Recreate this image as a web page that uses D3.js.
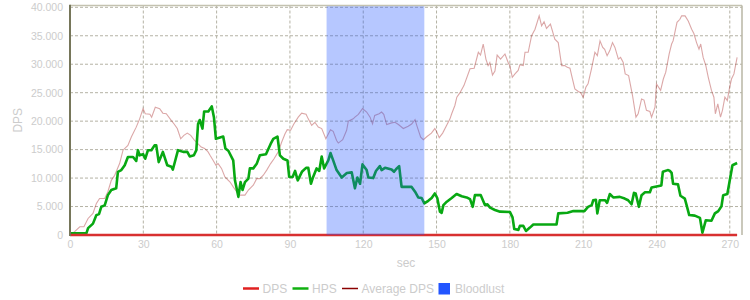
<!DOCTYPE html>
<html>
<head>
<meta charset="utf-8">
<script src="https://cdn.jsdelivr.net/npm/d3@7"></script>
<style>
  body { margin: 0; background: #fff; }
  text { font-family: "Liberation Sans", Arial, sans-serif; }
</style>
</head>
<body>
<div id="chart"></div>
<script>
// Series data (seconds, value)
var dpsTime = [0, 273];
var dpsValues = [0, 0];

var hpsTime = [0, 6.7, 7.4, 9.4, 10.8, 11.9, 12.8, 14.2, 15.5, 16.9, 18.9, 19.6, 21, 22.4, 23.7, 25.8, 27.1, 27.8, 28.5, 29.9,
  30.8, 31.9, 33.3, 34.6, 35.3, 36.3, 38, 39.8, 41.5, 42.1, 44.2, 46.3, 48, 49, 50.7, 51.7, 52.4, 53.1, 54.2, 54.9,
  56.6, 58, 58.9, 59.7, 62.7, 63.6, 64.8, 66.8, 67.5, 68.9, 69.8, 70.6, 71.6, 73, 73.6, 75, 76.4, 77.7, 80.2, 82.1,
  83.2, 84.9, 85.9, 87.3, 89, 89.7, 91.1, 92.1, 93.2, 94.9, 96.6, 97.5, 98.6, 99.5, 100.9, 102, 103, 104, 105.7, 106.6,
  107.7, 109.1, 111.2, 113.3, 115.3, 116.6, 117.6, 118.7, 119.7, 121.4, 122.1, 124.1, 125.2, 126.8, 127.5, 128.9, 131.6, 132.6, 133.5, 134.7,
  135.7, 139.8, 141.2, 142.5, 143.9, 145, 146.6, 148, 149.3, 150.3, 151.4, 152.1, 152.8, 154.2, 156.2, 158.2, 160.3, 162.3, 163.7, 164.8,
  165.7, 168.1, 169.8, 170.8, 171.9, 173.9, 176, 180, 181.1, 181.8, 183.5, 184.1, 185.5, 186.6, 188.2, 189.6, 199.1, 199.8, 203.6, 206,
  210.5, 212, 213.5, 214.1, 215.2, 215.8, 216.8, 219, 219.8, 220.9, 222.3, 225, 227, 228.4, 229.8, 230.8, 231.5, 232.8, 233.9, 235.3,
  237.3, 238, 242, 242.6, 244.6, 245.4, 246.2, 246.8, 248.8, 249.8, 251.6, 252.3, 253.4, 255.7, 257.8, 258.8, 260.2, 262.5, 263.9, 265.3,
  266.6, 267.3, 269, 269.8, 271.1, 273];
var hpsValues = [300, 300, 1200, 2000, 3500, 3700, 4950, 5200, 7000, 7900, 8200, 11100, 11400, 12250, 13700, 13700, 13000, 14900, 14000, 14200,
  13400, 14900, 14900, 15750, 15750, 12800, 14600, 12250, 12000, 11500, 14900, 14600, 14600, 13800, 14000, 14900, 19500, 20200, 18700, 21700,
  21700, 22600, 20700, 16900, 17300, 15200, 14800, 13100, 9600, 6700, 9300, 7900, 9300, 9900, 11700, 11700, 12500, 14000, 14200, 16000,
  16900, 17300, 14000, 13400, 13100, 10200, 10200, 11250, 9600, 11100, 11800, 11800, 9000, 10200, 11700, 11250, 13800, 11700, 13100, 14400,
  13100, 11400, 10100, 10900, 11000, 8200, 10100, 9000, 12400, 11400, 10100, 10000, 11250, 12100, 11400, 11800, 11500, 11100, 11600, 12100,
  8450, 8450, 7600, 6600, 6500, 5550, 6000, 6500, 7300, 6500, 4100, 3900, 5250, 5850, 6500, 7200, 6800, 6600, 6300, 4950,
  7000, 7000, 5250, 5400, 4800, 4400, 4100, 4050, 3100, 1050, 900, 1600, 1600, 700, 1300, 1850, 1850, 3800, 3900, 4200,
  4200, 4950, 5250, 6100, 6200, 3800, 6100, 6100, 5650, 7200, 6600, 6700, 6400, 6100, 5400, 7400, 7300, 4950, 7000, 7500,
  7500, 8350, 8700, 11100, 11400, 11300, 10900, 9000, 8900, 6900, 6400, 5300, 3500, 3400, 3000, 400, 2600, 2500, 3800, 4200,
  5050, 7000, 7200, 9150, 12250, 12650];

var avgTime = [0, 1.9, 4, 5.7, 7.4, 9.4, 10.8, 12.1, 14.2, 15.5, 16.9, 18.3, 20.3, 21.7, 23.7, 25.1, 27.1, 28.5, 29.9, 30.8,
  32.7, 33.4, 34.9, 36.7, 38, 39.4, 41.5, 42.6, 43.9, 45.3, 46.6, 48, 49.4, 51, 52.4, 53.7, 55.1, 56.5, 57.3, 58.6,
  59.7, 60.6, 62, 63.4, 65.5, 66.8, 68.2, 69.6, 71.6, 73, 75, 76.4, 77.7, 79.1, 80.5, 82.1, 83.5, 85.2, 86.6, 88,
  88.9, 90.3, 91.6, 93.4, 94.8, 96.6, 97.5, 98.9, 100.2, 101.6, 103, 104.7, 106.6, 107.7, 109.1, 109.8, 111.6, 113.2, 113.9, 115.9,
  116.6, 118, 119.7, 121.4, 122.8, 123.8, 124.7, 126.5, 127.5, 128.4, 129.6, 131.6, 133, 134.4, 136.4, 138.4, 139.8, 141.2, 142.1, 143.5,
  144.6, 146.1, 147.9, 149.3, 150, 151.1, 152.5, 154.1, 155.5, 156.2, 157.5, 158.3, 159.6, 161.2, 163.7, 165.4, 167.1, 168, 169.1, 170.2,
  171.1, 171.8, 172.9, 173.9, 174.8, 176.2, 178, 179.3, 180, 181, 182.1, 183.4, 184.1, 185.5, 186.2, 187.5, 188.9, 190.3, 192, 193,
  194, 195, 196.6, 198.4, 199.8, 201.2, 202.5, 203.5, 204.6, 205.3, 206.6, 208, 209, 210, 211.1, 212, 213.4, 214.8, 215.8, 216.9,
  218, 218.8, 219.8, 220.9, 222, 223, 224.4, 225.3, 226.4, 227.2, 228.6, 230.2, 231.6, 232.5, 233.9, 234.9, 235.9, 237.3, 238, 239.4,
  240, 241.7, 242.8, 243.8, 245.2, 246.2, 246.8, 248.4, 249.6, 250.3, 251.7, 253, 254.4, 255.3, 256.4, 257.4, 258.1, 259.1, 260.2, 261.2,
  262.5, 263.5, 264.1, 265.1, 266.2, 267, 268, 269, 269.8, 270.7, 271.7, 273];
var avgValues = [0, 600, 1450, 1450, 2900, 3800, 5550, 6400, 6400, 7600, 9600, 10500, 12550, 14900, 15750, 17200, 18950, 20400, 22200, 21300,
  21200, 20700, 22450, 22200, 21400, 21300, 20100, 19500, 18700, 16900, 17500, 17900, 17500, 16600, 16000, 15450, 15200, 14600, 14000, 13100,
  12250, 12550, 11700, 10200, 9300, 8450, 7600, 7000, 7000, 7900, 8750, 9900, 9900, 10500, 11400, 12550, 13400, 14600, 16300, 17800,
  18500, 18400, 19500, 20700, 21400, 21200, 20400, 19250, 19800, 18950, 18700, 16900, 18500, 18200, 16600, 16150, 16750, 18400, 20000, 20400,
  20700, 21200, 22200, 21600, 20700, 19500, 21000, 21300, 21600, 21200, 19400, 19700, 19800, 19400, 18700, 19100, 19500, 20250, 19000, 17200,
  16750, 17300, 17900, 18700, 18200, 17100, 17900, 19250, 20400, 21300, 22750, 24200, 25000, 26250, 29200, 29300, 32100, 31600, 33550, 30900,
  29750, 30300, 28100, 28800, 31600, 30900, 31800, 30300, 29750, 27700, 28300, 28900, 29900, 29750, 32100, 32100, 35000, 36150, 38500, 36750,
  37450, 36300, 37050, 34400, 33800, 29750, 29750, 29450, 29300, 28000, 25650, 25200, 25000, 24200, 25950, 26550, 29200, 32100, 31500, 34100,
  32950, 32600, 31500, 32400, 33800, 32950, 30900, 31200, 30300, 28300, 28000, 24500, 20700, 21300, 23900, 23700, 21900, 21700, 20700, 22450,
  26550, 25400, 27400, 28600, 31800, 33550, 34100, 37350, 37900, 38500, 38500, 37600, 36150, 35400, 33800, 32650, 33550, 31200, 29750, 27700,
  25400, 24200, 21300, 23050, 20700, 21900, 24200, 23600, 25650, 27400, 28300, 31200];

// Bloodlust window (seconds)
var bloodlustStart = 105;
var bloodlustEnd = 145;

var xTicks = [0, 30, 60, 90, 120, 150, 180, 210, 240, 270];
var yTicks = [0, 5000, 10000, 15000, 20000, 25000, 30000, 35000, 40000];

var legendItems = ["DPS", "HPS", "Average DPS", "Bloodlust"];

// Sizes
var svgWidth = 750;
var svgHeight = 300;
var plot = { left: 70, right: 742, top: 5.5, bottom: 235 };

var svg = d3.select("#chart")
  .append("svg")
  .attr("width", svgWidth)
  .attr("height", svgHeight);

var xScale = d3.scaleLinear()
  .domain([0, 275])
  .range([plot.left, plot.right]);

var yScale = d3.scaleLinear()
  .domain([0, 40000])
  .range([plot.bottom, 7.3]);

var fmt = d3.formatLocale({ decimal: ",", thousands: ".", grouping: [3], currency: ["", ""] }).format(",d");

var labelColor = "#cccccc";
var gridColor = "#b4b2a4";

// Grid lines
var grid = svg.append("g");
grid.selectAll(".hgrid")
  .data(yTicks.filter(d => d > 0))
  .enter()
  .append("line")
  .attr("x1", plot.left)
  .attr("x2", plot.right)
  .attr("y1", d => yScale(d))
  .attr("y2", d => yScale(d))
  .attr("stroke", gridColor)
  .attr("stroke-dasharray", "3,2");

grid.selectAll(".vgrid")
  .data(xTicks.filter(d => d > 0))
  .enter()
  .append("line")
  .attr("x1", d => xScale(d))
  .attr("x2", d => xScale(d))
  .attr("y1", plot.top)
  .attr("y2", plot.bottom)
  .attr("stroke", gridColor)
  .attr("stroke-dasharray", "3,2");

// Axes (labels only, lines drawn by hand)
var yAxis = d3.axisLeft(yScale).tickValues(yTicks).tickFormat(fmt).tickSize(0).tickPadding(7);
var xAxis = d3.axisBottom(xScale).tickValues(xTicks).tickSize(0).tickPadding(6);

var yG = svg.append("g")
  .attr("transform", `translate(${plot.left}, 0)`)
  .call(yAxis);
var xG = svg.append("g")
  .attr("transform", `translate(0, ${plot.bottom})`)
  .call(xAxis);
[yG, xG].forEach(function(g) {
  g.select(".domain").remove();
  g.selectAll("text")
    .attr("fill", labelColor)
    .style("font-size", "10.5px")
    .style("font-family", "'Liberation Sans', Arial, sans-serif");
});

// Lines
var line = d3.line()
  .x(d => xScale(d[0]))
  .y(d => yScale(d[1]));

svg.append("path")
  .datum(d3.zip(avgTime, avgValues))
  .attr("d", line)
  .attr("fill", "none")
  .attr("stroke", "#a01818")
  .attr("stroke-opacity", 0.38)
  .attr("stroke-width", 1.1);

svg.append("path")
  .datum(d3.zip(hpsTime, hpsValues))
  .attr("d", line)
  .attr("fill", "none")
  .attr("stroke", "#08a812")
  .attr("stroke-width", 2.6)
  .attr("stroke-linejoin", "round");

svg.append("path")
  .datum(d3.zip(dpsTime, dpsValues))
  .attr("d", line)
  .attr("fill", "none")
  .attr("stroke", "#d83030")
  .attr("stroke-width", 2.4);

// Bloodlust band over the lines
svg.append("rect")
  .attr("x", xScale(bloodlustStart))
  .attr("y", plot.top)
  .attr("width", xScale(bloodlustEnd) - xScale(bloodlustStart))
  .attr("height", plot.bottom - plot.top)
  .attr("fill", "#2255ff")
  .attr("fill-opacity", 0.33);

// Frame
svg.append("line")
  .attr("x1", plot.left).attr("x2", plot.right)
  .attr("y1", plot.top).attr("y2", plot.top)
  .attr("stroke", "#c4c2b0").attr("stroke-width", 1.5);
svg.append("line")
  .attr("x1", plot.right).attr("x2", plot.right)
  .attr("y1", plot.top).attr("y2", plot.bottom)
  .attr("stroke", "#b8b6a4").attr("stroke-width", 1.5);
svg.append("line")
  .attr("x1", plot.left).attr("x2", plot.left)
  .attr("y1", plot.top - 0.75).attr("y2", plot.bottom + 1)
  .attr("stroke", "#76765a").attr("stroke-width", 2);

// Axis titles
svg.append("text")
  .attr("transform", `translate(22, ${(plot.top + plot.bottom) / 2}) rotate(-90)`)
  .attr("text-anchor", "middle")
  .attr("fill", labelColor)
  .style("font-size", "12px")
  .text("DPS");

svg.append("text")
  .attr("x", (plot.left + plot.right) / 2)
  .attr("y", 267)
  .attr("text-anchor", "middle")
  .attr("fill", labelColor)
  .style("font-size", "12px")
  .text("sec");

// Legend
var legendX = [243, 292.5, 342, 438.5];
var legendColors = ["#e02020", "#10b010", "#8b0000", "#2255ff"];
var legend = svg.append("g");
legendItems.forEach(function(name, i) {
  if (i < 3) {
    legend.append("line")
      .attr("x1", legendX[i]).attr("x2", legendX[i] + 16)
      .attr("y1", 288.5).attr("y2", 288.5)
      .attr("stroke", legendColors[i])
      .attr("stroke-width", i == 2 ? 1.5 : 2.5);
  } else {
    legend.append("rect")
      .attr("x", legendX[i]).attr("y", 283)
      .attr("width", 11.5).attr("height", 11.5)
      .attr("fill", legendColors[i]);
  }
  legend.append("text")
    .attr("x", legendX[i] + (i < 3 ? 19.5 : 16.5))
    .attr("y", 293)
    .attr("fill", labelColor)
    .style("font-size", "12px")
    .text(name);
});
</script>
</body>
</html>
